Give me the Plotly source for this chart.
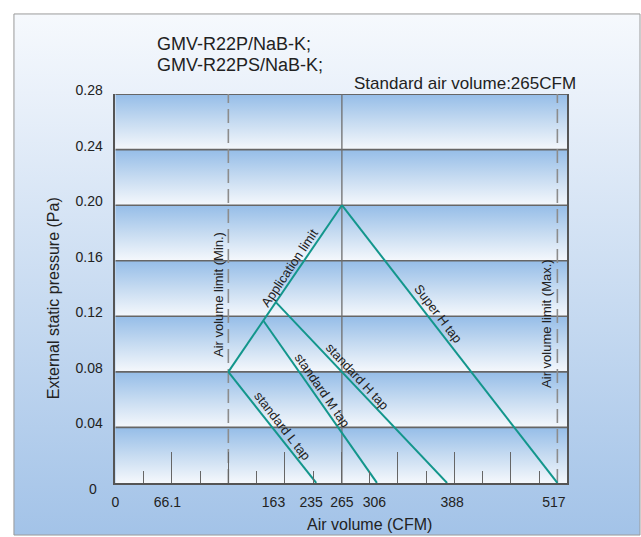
import math
import plotly.graph_objects as go

# ---------------- data ----------------
y_ticks = [0, 0.04, 0.08, 0.12, 0.16, 0.20, 0.24, 0.28]
y_tick_text = ["0", "0.04", "0.08", "0.12", "0.16", "0.20", "0.24", "0.28"]

x_tick_text = ["0", "66.1", "163", "235", "265", "306", "388", "517"]
x_tick_pos = [0, 61, 185, 229, 265, 303, 394, 513]   # where the labels sit (CFM)

x_axis_max = 528.8
minor_step = 33.05

x_min_limit = 132.2
x_max_limit = 517
x_standard = 265

app_limit_x = [132.2, 265]
app_limit_y = [0.08, 0.20]
super_h_x = [265, 517]
super_h_y = [0.20, 0.0]
std_h_x = [188, 388]
std_h_y = [0.130, 0.0]
std_m_x = [173, 306]
std_m_y = [0.117, 0.0]
std_l_x = [132.2, 235]
std_l_y = [0.08, 0.0]

W, H = 641, 537
PL, PR, PT, PB = 112, 567, 84, 481.7

TEAL = "#13968c"
GRID = "#666666"
TXT = "#222222"
FONT = "Liberation Sans, Arial, sans-serif"

fig = go.Figure()

# ---- page background (subplot xy, pixel units, y measured from bottom) ----
fig.add_trace(go.Scatter(
    x=[10, 640, 640, 10, 10], y=[2, 2, 535, 535, 2],
    mode="lines", fill="toself",
    line=dict(color="#9a9a9a", width=1),
    fillgradient=dict(type="vertical",
                      colorscale=[[0, "#a3c3e8"], [0.45, "#c8dbf1"], [0.85, "#eaf1fa"], [1, "#f6f9fd"]]),
    hoverinfo="skip", showlegend=False, xaxis="x", yaxis="y"))

# ---- gradient bands ----
for k in range(len(y_ticks) - 1):
    y0, y1 = y_ticks[k], y_ticks[k + 1]
    fig.add_trace(go.Scatter(
        x=[0, x_axis_max, x_axis_max, 0, 0], y=[y0, y0, y1, y1, y0],
        mode="lines", fill="toself", line=dict(width=0),
        fillgradient=dict(type="vertical",
                          colorscale=[[0, "#f5f8fc"], [0.5, "#c6dbf1"], [1, "#95bde8"]]),
        hoverinfo="skip", showlegend=False, xaxis="x2", yaxis="y2"))

# ---- horizontal grid lines ----
gx, gy = [], []
for v in y_ticks[1:]:
    gx += [0, x_axis_max, None]
    gy += [v, v, None]
fig.add_trace(go.Scatter(x=gx, y=gy, mode="lines", line=dict(color=GRID, width=1.6),
                         hoverinfo="skip", showlegend=False, xaxis="x2", yaxis="y2"))

# ---- vertical reference lines ----
fig.add_trace(go.Scatter(x=[x_standard, x_standard], y=[0, y_ticks[-1]], mode="lines",
                         line=dict(color="#6e6e6e", width=1.3),
                         hoverinfo="skip", showlegend=False, xaxis="x2", yaxis="y2"))
for xv in (x_min_limit, x_max_limit):
    fig.add_trace(go.Scatter(x=[xv, xv], y=[0, y_ticks[-1]], mode="lines",
                             line=dict(color="#8c8c8c", width=1.6, dash="14px,6px"),
                             hoverinfo="skip", showlegend=False, xaxis="x2", yaxis="y2"))

# ---- fan curves ----
curves = [(app_limit_x, app_limit_y), (super_h_x, super_h_y), (std_h_x, std_h_y),
          (std_m_x, std_m_y), (std_l_x, std_l_y)]
for xs, ys in curves:
    fig.add_trace(go.Scatter(x=xs, y=ys, mode="lines", line=dict(color=TEAL, width=2),
                             hoverinfo="skip", showlegend=False, xaxis="x2", yaxis="y2"))

# invisible trace for the tick-mark axis
fig.add_trace(go.Scatter(x=[0, x_axis_max], y=[0, 0], mode="lines", line=dict(width=0),
                         hoverinfo="skip", showlegend=False, xaxis="x3", yaxis="y2"))

# ---- labels along the curves ----
def to_px(xv, yv):
    return (PL + xv / x_axis_max * (PR - PL), PB - yv / y_ticks[-1] * (PB - PT))

# (text, curve, fraction along curve, side: +1 = upper side, perpendicular offset px)
curve_labels = [
    ("Application limit", curves[0], 0.60, 8),
    ("Super H tap", curves[1], 0.41, 10),
    ("standard H tap", curves[2], 0.44, 8.5),
    ("standard M tap", curves[3], 0.46, 8.5),
    ("standard L tap", curves[4], 0.54, 9),
]
for txt, (xs, ys), t, off in curve_labels:
    xa, ya = xs[0] + t * (xs[1] - xs[0]), ys[0] + t * (ys[1] - ys[0])
    p0, p1 = to_px(xs[0], ys[0]), to_px(xs[1], ys[1])
    dx, dy = p1[0] - p0[0], p1[1] - p0[1]          # screen direction
    L = math.hypot(dx, dy)
    ang = math.degrees(math.atan2(dy, dx))
    if dy < 0:   # ascending line: text on upper-left side
        xs_, ys_ = -off * abs(dy) / L, off * dx / L
    else:        # descending line: text on upper-right side
        xs_, ys_ = off * dy / L, off * dx / L
    fig.add_annotation(text=txt, x=xa, y=ya, xref="x2", yref="y2", showarrow=False,
                       xanchor="center", yanchor="middle", xshift=xs_, yshift=ys_,
                       textangle=ang, font=dict(size=13, color=TXT, family=FONT))

for txt, xv, yv in [("Air volume limit (Min.)", 120.7, 0.1357),
                    ("Air volume limit (Max.)", 504.8, 0.1152)]:
    fig.add_annotation(text=txt, x=xv, y=yv, xref="x2", yref="y2", showarrow=False,
                       xanchor="center", yanchor="middle",
                       textangle=-90, font=dict(size=13, color=TXT, family=FONT))

def px(x):
    return x / W

def py(y):
    return 1 - y / H

fig.add_annotation(text="GMV-R22P/NaB-K;", x=px(152), y=py(33), xref="paper", yref="paper",
                   xanchor="left", yanchor="middle", showarrow=False,
                   font=dict(size=18, color=TXT, family=FONT))
fig.add_annotation(text="GMV-R22PS/NaB-K;", x=px(152), y=py(54), xref="paper", yref="paper",
                   xanchor="left", yanchor="middle", showarrow=False,
                   font=dict(size=18, color=TXT, family=FONT))
fig.add_annotation(text="Standard air volume:265CFM", x=px(350), y=py(73), xref="paper", yref="paper",
                   xanchor="left", yanchor="middle", showarrow=False,
                   font=dict(size=17, color=TXT, family=FONT))
fig.add_annotation(text="External static pressure (Pa)", x=px(50), y=py(293), xref="paper", yref="paper",
                   xanchor="center", yanchor="middle",
                   textangle=-90, showarrow=False, font=dict(size=16, color=TXT, family=FONT))
fig.add_annotation(text="Air volume (CFM)", x=px(368), y=py(524), xref="paper", yref="paper",
                   xanchor="center", yanchor="middle",
                   showarrow=False, font=dict(size=16, color=TXT, family=FONT))
# the "0" of the pressure axis sits lower-left of the others
fig.add_annotation(text=y_tick_text[0], x=px(90), y=py(488), xref="paper", yref="paper",
                   xanchor="center", yanchor="middle",
                   showarrow=False, font=dict(size=14, color=TXT, family=FONT))

fig.update_layout(
    width=W, height=H,
    margin=dict(l=0, r=0, t=0, b=0),
    paper_bgcolor="white", plot_bgcolor="rgba(0,0,0,0)",
    showlegend=False,
    xaxis=dict(domain=[0, 1], range=[0, W], visible=False, fixedrange=True),
    yaxis=dict(domain=[0, 1], range=[0, H], visible=False, fixedrange=True),
    xaxis2=dict(domain=[px(PL), px(PR)], range=[0, x_axis_max], anchor="y2",
                showgrid=False, zeroline=False, showline=True, linecolor="#555", linewidth=1.5,
                tickmode="array", tickvals=x_tick_pos, ticktext=x_tick_text, ticks="",
                ticklabelstandoff=6,
                tickfont=dict(size=14, color=TXT, family=FONT)),
    xaxis3=dict(overlaying="x2", anchor="y2", range=[0, x_axis_max], showgrid=False, zeroline=False,
                showline=False, showticklabels=False, ticks="inside", tick0=0, dtick=2 * minor_step,
                ticklen=31, tickcolor="#666", tickwidth=1.2,
                minor=dict(dtick=minor_step, tick0=0, ticks="inside", ticklen=12,
                           tickcolor="#666", tickwidth=1.2, showgrid=False)),
    yaxis2=dict(domain=[py(PB), py(PT)], range=[0, y_ticks[-1]], anchor="x2",
                showgrid=False, zeroline=False, showline=True, linecolor="#555", linewidth=1.5,
                mirror=True,
                tickmode="array", tickvals=y_ticks[1:], ticktext=y_tick_text[1:], ticks="",
                ticklabelstandoff=8, ticklabelshift=-4,
                tickfont=dict(size=14, color=TXT, family=FONT)),
)

fig.write_html("out.html", config={"displayModeBar": False},
               post_script="document.body.style.margin='0';document.body.style.overflow='hidden';")
